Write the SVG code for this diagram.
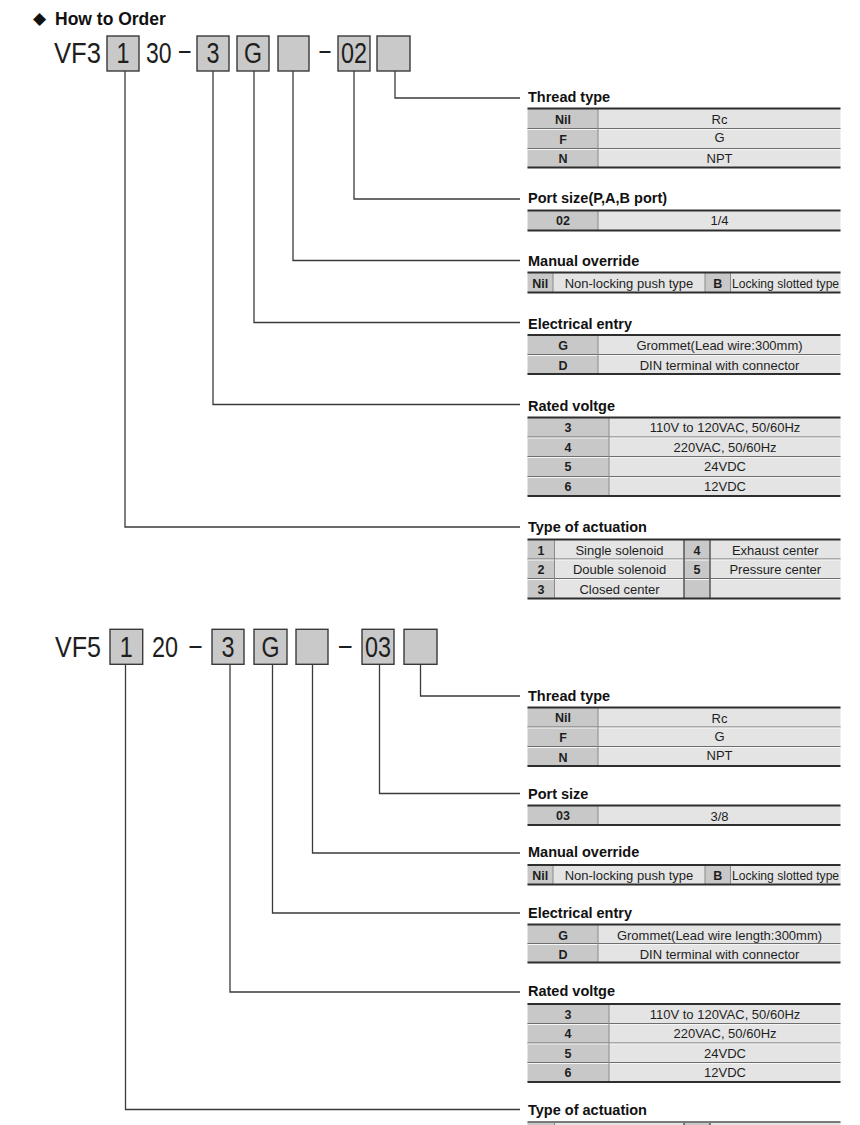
<svg xmlns="http://www.w3.org/2000/svg" width="860" height="1125" viewBox="0 0 860 1125">
<style>
.bg{fill:#ffffff}
.box{fill:#c9c9c9;stroke:#3a3a3a;stroke-width:1.4}
.code{font-family:"Liberation Sans",Arial,sans-serif;font-size:29px;fill:#1e1e1e}
.mid{text-anchor:middle}
.title{font-family:"Liberation Sans",Arial,sans-serif;font-size:17.5px;font-weight:bold;fill:#111}
.dia{font-family:"DejaVu Sans",sans-serif;font-size:17px;fill:#111}
.lbl{font-family:"Liberation Sans",Arial,sans-serif;font-size:14.5px;font-weight:bold;fill:#111}
.conn{fill:none;stroke:#3a3a3a;stroke-width:1.3}
.key{fill:#c8c8c8}
.val{fill:#e4e4e4}
.edge{stroke:#2e2e2e;stroke-width:2}
.sep{stroke:#6e6e6e;stroke-width:1}
.hl{stroke:#f6f6f6;stroke-width:1}
.col{stroke:#8a8a8a;stroke-width:1}
.colk{stroke:#5e5e5e;stroke-width:1.6}
.t{font-family:"Liberation Sans",Arial,sans-serif;font-size:13px;fill:#1e1e1e;text-anchor:middle}
.k{font-weight:bold;font-size:12.5px}
</style>
<rect class="bg" x="0" y="0" width="860" height="1125"/>

<g id="heading">
<text class="dia" x="33" y="24">◆</text>
<text class="title" x="55" y="25">How to Order</text>
</g>

<g id="code-vf3">
<text class="code" x="54" y="63.3" textLength="47" lengthAdjust="spacingAndGlyphs">VF3</text>
<rect class="box" x="107" y="36" width="32" height="35"/>
<text class="code mid" x="123" y="63.3" textLength="13" lengthAdjust="spacingAndGlyphs">1</text>
<text class="code" x="146" y="63.3" textLength="25.6" lengthAdjust="spacingAndGlyphs">30</text>
<text class="code" x="179" y="60" textLength="11.5" lengthAdjust="spacingAndGlyphs">–</text>
<rect class="box" x="197" y="36" width="32" height="35"/>
<text class="code mid" x="213" y="63.3" textLength="13" lengthAdjust="spacingAndGlyphs">3</text>
<rect class="box" x="237" y="36" width="32" height="35"/>
<text class="code mid" x="253" y="63.3" textLength="18" lengthAdjust="spacingAndGlyphs">G</text>
<rect class="box" x="278" y="36" width="31" height="35"/>
<text class="code" x="319.5" y="60" textLength="11" lengthAdjust="spacingAndGlyphs">–</text>
<rect class="box" x="338" y="36" width="32" height="35"/>
<text class="code mid" x="354" y="63.3" textLength="26" lengthAdjust="spacingAndGlyphs">02</text>
<rect class="box" x="377" y="36" width="33" height="35"/>
</g>

<g id="code-vf5">
<text class="code" x="55" y="656.7" textLength="46" lengthAdjust="spacingAndGlyphs">VF5</text>
<rect class="box" x="110" y="629.3" width="32.7" height="35"/>
<text class="code mid" x="126.3" y="656.7" textLength="13" lengthAdjust="spacingAndGlyphs">1</text>
<text class="code" x="152" y="656.7" textLength="26" lengthAdjust="spacingAndGlyphs">20</text>
<text class="code" x="189.5" y="654.5" textLength="12" lengthAdjust="spacingAndGlyphs">–</text>
<rect class="box" x="212" y="629.3" width="32" height="35"/>
<text class="code mid" x="228" y="656.7" textLength="13" lengthAdjust="spacingAndGlyphs">3</text>
<rect class="box" x="254" y="629.3" width="33" height="35"/>
<text class="code mid" x="270.5" y="656.7" textLength="18" lengthAdjust="spacingAndGlyphs">G</text>
<rect class="box" x="296" y="629.3" width="32" height="35"/>
<text class="code" x="339" y="654.5" textLength="12.5" lengthAdjust="spacingAndGlyphs">–</text>
<rect class="box" x="362" y="629.3" width="32" height="35"/>
<text class="code mid" x="378" y="656.7" textLength="26" lengthAdjust="spacingAndGlyphs">03</text>
<rect class="box" x="404" y="629.3" width="33" height="35"/>
</g>

<g id="connectors">
<path class="conn" d="M395 71V98H520"/>
<path class="conn" d="M354 71V199H520"/>
<path class="conn" d="M293 71V260.5H520"/>
<path class="conn" d="M254 71V322.5H520"/>
<path class="conn" d="M213 71V404.5H520"/>
<path class="conn" d="M125 71V527H520"/>
<path class="conn" d="M420.5 664.3V696H520"/>
<path class="conn" d="M379.5 664.3V793.5H520"/>
<path class="conn" d="M312.5 664.3V853H520"/>
<path class="conn" d="M272.5 664.3V913H520"/>
<path class="conn" d="M230 664.3V992H520"/>
<path class="conn" d="M125.5 664.3V1109.5H520"/>
</g>

<!-- ===== VF3 tables ===== -->
<g id="vf3-thread">
<text class="lbl" x="528" y="101.7">Thread type</text>
<rect class="key" x="527.5" y="108.5" width="70.5" height="59"/>
<rect class="val" x="598" y="108.5" width="242.5" height="59"/>
<line class="sep" x1="527.5" y1="128.5" x2="840.5" y2="128.5"/><line class="hl" x1="527.5" y1="129.5" x2="840.5" y2="129.5"/>
<line class="sep" x1="527.5" y1="148.5" x2="840.5" y2="148.5"/><line class="hl" x1="527.5" y1="149.5" x2="840.5" y2="149.5"/>
<line class="col" x1="598" y1="108.5" x2="598" y2="167.5"/>
<line class="edge" x1="527.5" y1="108.5" x2="840.5" y2="108.5"/>
<line class="edge" x1="527.5" y1="167.5" x2="840.5" y2="167.5"/>
<text class="t k" x="563" y="123.5">Nil</text><text class="t" x="719.5" y="123.5">Rc</text>
<text class="t k" x="563" y="143.5">F</text><text class="t" x="719.5" y="142">G</text>
<text class="t k" x="563" y="163">N</text><text class="t" x="719.5" y="162.5">NPT</text>
</g>

<g id="vf3-port">
<text class="lbl" x="528" y="203">Port size(P,A,B port)</text>
<rect class="key" x="527.5" y="210.5" width="70.5" height="20"/>
<rect class="val" x="598" y="210.5" width="242.5" height="20"/>
<line class="col" x1="598" y1="210.5" x2="598" y2="230.5"/>
<line class="edge" x1="527.5" y1="210.5" x2="840.5" y2="210.5"/>
<line class="edge" x1="527.5" y1="230.5" x2="840.5" y2="230.5"/>
<text class="t k" x="563" y="225">02</text><text class="t" x="719.5" y="225">1/4</text>
</g>

<g id="vf3-override">
<text class="lbl" x="528" y="266">Manual override</text>
<rect class="key" x="527.5" y="272.5" width="25.5" height="20"/>
<rect class="val" x="553" y="272.5" width="152" height="20"/>
<rect class="key" x="705" y="272.5" width="25.5" height="20"/>
<rect class="val" x="730.5" y="272.5" width="110" height="20"/>
<line class="col" x1="553" y1="272.5" x2="553" y2="292.5"/>
<line class="col" x1="705" y1="272.5" x2="705" y2="292.5"/>
<line class="col" x1="730.5" y1="272.5" x2="730.5" y2="292.5"/>
<line class="edge" x1="527.5" y1="272.5" x2="840.5" y2="272.5"/>
<line class="edge" x1="527.5" y1="292.5" x2="840.5" y2="292.5"/>
<text class="t k" x="540.3" y="287.5">Nil</text>
<text class="t" x="629" y="287.5">Non-locking push type</text>
<text class="t k" x="717.8" y="287.5">B</text>
<text class="t" x="785.6" y="287.5" textLength="107" lengthAdjust="spacingAndGlyphs">Locking slotted type</text>
</g>

<g id="vf3-electrical">
<text class="lbl" x="528" y="329">Electrical entry</text>
<rect class="key" x="527.5" y="335" width="70.5" height="39"/>
<rect class="val" x="598" y="335" width="242.5" height="39"/>
<line class="sep" x1="527.5" y1="354.5" x2="840.5" y2="354.5"/><line class="hl" x1="527.5" y1="355.5" x2="840.5" y2="355.5"/>
<line class="col" x1="598" y1="335" x2="598" y2="374"/>
<line class="edge" x1="527.5" y1="335" x2="840.5" y2="335"/>
<line class="edge" x1="527.5" y1="374" x2="840.5" y2="374"/>
<text class="t k" x="563" y="350">G</text><text class="t" x="719.5" y="350">Grommet(Lead wire:300mm)</text>
<text class="t k" x="563" y="369.5">D</text><text class="t" x="719.5" y="369.5">DIN terminal with connector</text>
</g>

<g id="vf3-voltage">
<text class="lbl" x="528" y="411">Rated voltge</text>
<rect class="key" x="527.5" y="417.5" width="81.5" height="78.5"/>
<rect class="val" x="609" y="417.5" width="231.5" height="78.5"/>
<line class="sep" x1="527.5" y1="437" x2="840.5" y2="437"/><line class="hl" x1="527.5" y1="438" x2="840.5" y2="438"/>
<line class="sep" x1="527.5" y1="456.5" x2="840.5" y2="456.5"/><line class="hl" x1="527.5" y1="457.5" x2="840.5" y2="457.5"/>
<line class="sep" x1="527.5" y1="476.5" x2="840.5" y2="476.5"/><line class="hl" x1="527.5" y1="477.5" x2="840.5" y2="477.5"/>
<line class="col" x1="609" y1="417.5" x2="609" y2="496"/>
<line class="edge" x1="527.5" y1="417.5" x2="840.5" y2="417.5"/>
<line class="edge" x1="527.5" y1="496" x2="840.5" y2="496"/>
<text class="t k" x="568" y="432">3</text><text class="t" x="725" y="432">110V to 120VAC, 50/60Hz</text>
<text class="t k" x="568" y="451.5">4</text><text class="t" x="725" y="451.5">220VAC, 50/60Hz</text>
<text class="t k" x="568" y="471">5</text><text class="t" x="725" y="471">24VDC</text>
<text class="t k" x="568" y="491">6</text><text class="t" x="725" y="491">12VDC</text>
</g>

<g id="vf3-actuation">
<text class="lbl" x="528" y="532.3">Type of actuation</text>
<rect class="key" x="527.5" y="539.5" width="27" height="59"/>
<rect class="val" x="554.5" y="539.5" width="129.5" height="59"/>
<rect class="key" x="684" y="539.5" width="26" height="59"/>
<rect class="val" x="710" y="539.5" width="130.5" height="59"/>
<line class="sep" x1="527.5" y1="559" x2="840.5" y2="559"/><line class="hl" x1="527.5" y1="560" x2="840.5" y2="560"/>
<line class="sep" x1="527.5" y1="578.5" x2="840.5" y2="578.5"/><line class="hl" x1="527.5" y1="579.5" x2="840.5" y2="579.5"/>
<line class="col" x1="554.5" y1="539.5" x2="554.5" y2="598.5"/>
<line class="colk" x1="684" y1="539.5" x2="684" y2="598.5"/>
<line class="colk" x1="710" y1="539.5" x2="710" y2="598.5"/>
<line class="edge" x1="527.5" y1="539.5" x2="840.5" y2="539.5"/>
<line class="edge" x1="527.5" y1="598.5" x2="840.5" y2="598.5"/>
<text class="t k" x="541" y="554.5">1</text><text class="t" x="619.5" y="554.5">Single solenoid</text>
<text class="t k" x="697" y="554.5">4</text><text class="t" x="775.3" y="554.5">Exhaust center</text>
<text class="t k" x="541" y="574">2</text><text class="t" x="619.5" y="574">Double solenoid</text>
<text class="t k" x="697" y="574">5</text><text class="t" x="775.3" y="574">Pressure center</text>
<text class="t k" x="541" y="593.5">3</text><text class="t" x="619.5" y="593.5">Closed center</text>
</g>

<!-- ===== VF5 tables ===== -->
<g id="vf5-thread">
<text class="lbl" x="528" y="700.7">Thread type</text>
<rect class="key" x="527.5" y="707.5" width="70.5" height="58.5"/>
<rect class="val" x="598" y="707.5" width="242.5" height="58.5"/>
<line class="sep" x1="527.5" y1="727" x2="840.5" y2="727"/><line class="hl" x1="527.5" y1="728" x2="840.5" y2="728"/>
<line class="sep" x1="527.5" y1="746.5" x2="840.5" y2="746.5"/><line class="hl" x1="527.5" y1="747.5" x2="840.5" y2="747.5"/>
<line class="col" x1="598" y1="707.5" x2="598" y2="766"/>
<line class="edge" x1="527.5" y1="707.5" x2="840.5" y2="707.5"/>
<line class="edge" x1="527.5" y1="766" x2="840.5" y2="766"/>
<text class="t k" x="563" y="721.5">Nil</text><text class="t" x="719.5" y="723">Rc</text>
<text class="t k" x="563" y="742">F</text><text class="t" x="719.5" y="740.5">G</text>
<text class="t k" x="563" y="761.5">N</text><text class="t" x="719.5" y="760">NPT</text>
</g>

<g id="vf5-port">
<text class="lbl" x="528" y="799">Port size</text>
<rect class="key" x="527.5" y="805.5" width="70.5" height="19.5"/>
<rect class="val" x="598" y="805.5" width="242.5" height="19.5"/>
<line class="col" x1="598" y1="805.5" x2="598" y2="825"/>
<line class="edge" x1="527.5" y1="805.5" x2="840.5" y2="805.5"/>
<line class="edge" x1="527.5" y1="825" x2="840.5" y2="825"/>
<text class="t k" x="563" y="819.5">03</text><text class="t" x="719.5" y="820.5">3/8</text>
</g>

<g id="vf5-override">
<text class="lbl" x="528" y="857.3">Manual override</text>
<rect class="key" x="527.5" y="865" width="25.5" height="19.5"/>
<rect class="val" x="553" y="865" width="152" height="19.5"/>
<rect class="key" x="705" y="865" width="25.5" height="19.5"/>
<rect class="val" x="730.5" y="865" width="110" height="19.5"/>
<line class="col" x1="553" y1="865" x2="553" y2="884.5"/>
<line class="col" x1="705" y1="865" x2="705" y2="884.5"/>
<line class="col" x1="730.5" y1="865" x2="730.5" y2="884.5"/>
<line class="edge" x1="527.5" y1="865" x2="840.5" y2="865"/>
<line class="edge" x1="527.5" y1="884.5" x2="840.5" y2="884.5"/>
<text class="t k" x="540.3" y="879.5">Nil</text>
<text class="t" x="629" y="879.5">Non-locking push type</text>
<text class="t k" x="717.8" y="879.5">B</text>
<text class="t" x="785.6" y="879.5" textLength="107" lengthAdjust="spacingAndGlyphs">Locking slotted type</text>
</g>

<g id="vf5-electrical">
<text class="lbl" x="528" y="918.3">Electrical entry</text>
<rect class="key" x="527.5" y="924.5" width="70.5" height="38"/>
<rect class="val" x="598" y="924.5" width="242.5" height="38"/>
<line class="sep" x1="527.5" y1="943.5" x2="840.5" y2="943.5"/><line class="hl" x1="527.5" y1="944.5" x2="840.5" y2="944.5"/>
<line class="col" x1="598" y1="924.5" x2="598" y2="962.5"/>
<line class="edge" x1="527.5" y1="924.5" x2="840.5" y2="924.5"/>
<line class="edge" x1="527.5" y1="962.5" x2="840.5" y2="962.5"/>
<text class="t k" x="563" y="939.5">G</text><text class="t" x="719.5" y="939.5">Grommet(Lead wire length:300mm)</text>
<text class="t k" x="563" y="958.5">D</text><text class="t" x="719.5" y="958.5">DIN terminal with connector</text>
</g>

<g id="vf5-voltage">
<text class="lbl" x="528" y="996">Rated voltge</text>
<rect class="key" x="527.5" y="1004" width="81.5" height="78"/>
<rect class="val" x="609" y="1004" width="231.5" height="78"/>
<line class="sep" x1="527.5" y1="1023.5" x2="840.5" y2="1023.5"/><line class="hl" x1="527.5" y1="1024.5" x2="840.5" y2="1024.5"/>
<line class="sep" x1="527.5" y1="1043" x2="840.5" y2="1043"/><line class="hl" x1="527.5" y1="1044" x2="840.5" y2="1044"/>
<line class="sep" x1="527.5" y1="1062.5" x2="840.5" y2="1062.5"/><line class="hl" x1="527.5" y1="1063.5" x2="840.5" y2="1063.5"/>
<line class="col" x1="609" y1="1004" x2="609" y2="1082"/>
<line class="edge" x1="527.5" y1="1004" x2="840.5" y2="1004"/>
<line class="edge" x1="527.5" y1="1082" x2="840.5" y2="1082"/>
<text class="t k" x="568" y="1018.5">3</text><text class="t" x="725" y="1018.5">110V to 120VAC, 50/60Hz</text>
<text class="t k" x="568" y="1038">4</text><text class="t" x="725" y="1038">220VAC, 50/60Hz</text>
<text class="t k" x="568" y="1057.5">5</text><text class="t" x="725" y="1057.5">24VDC</text>
<text class="t k" x="568" y="1077">6</text><text class="t" x="725" y="1077">12VDC</text>
</g>

<g id="vf5-actuation">
<text class="lbl" x="528" y="1115">Type of actuation</text>
<rect class="key" x="527.5" y="1122" width="27" height="3"/>
<rect class="val" x="554.5" y="1122" width="129.5" height="3"/>
<rect class="key" x="684" y="1122" width="26" height="3"/>
<rect class="val" x="710" y="1122" width="130.5" height="3"/>
<line class="col" x1="554.5" y1="1122" x2="554.5" y2="1125"/>
<line class="colk" x1="684" y1="1122" x2="684" y2="1125"/>
<line class="colk" x1="710" y1="1122" x2="710" y2="1125"/>
<line class="edge" x1="527.5" y1="1122" x2="840.5" y2="1122" style="stroke:#7a7a7a"/>
</g>
</svg>
